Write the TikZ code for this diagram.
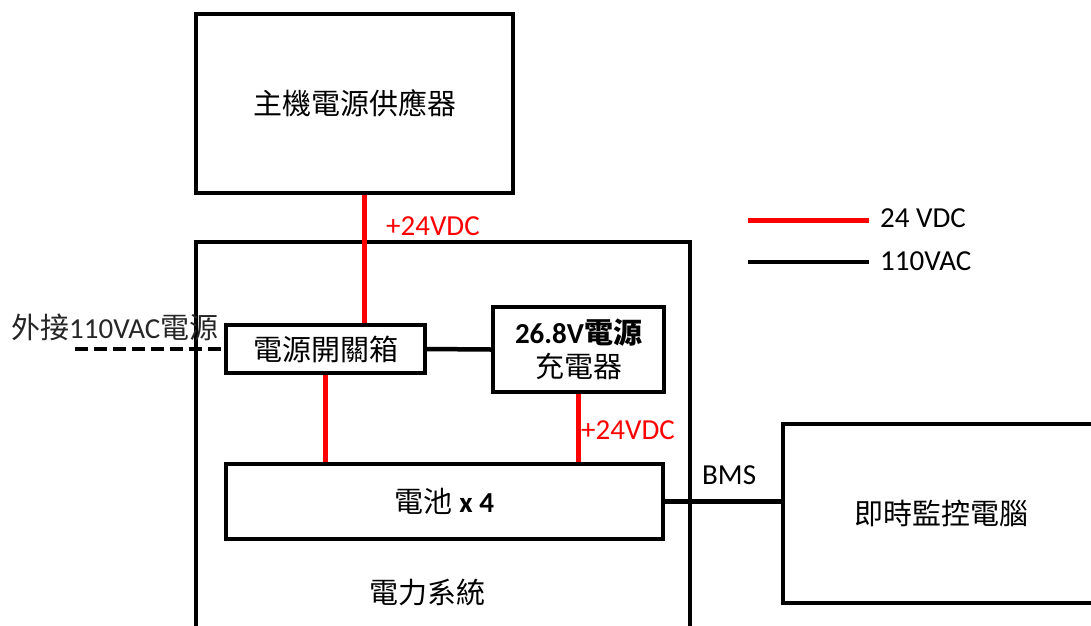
\documentclass[tikz,border=0pt]{standalone}
\usepackage{fontspec}
\setmainfont{Carlito}
\newfontfamily\cjk{Noto Sans CJK TC}
\begin{document}
\begin{tikzpicture}[x=1pt,y=-1pt]
\tikzset{
  box/.style={draw, line width=3.2pt, inner sep=0pt, align=center, font=\fontsize{29}{35}\selectfont},
  lbl/.style={inner sep=0pt, font=\fontsize{29}{35}\selectfont},
  redw/.style={draw=red, line width=5pt},
  blk/.style={draw=black, line width=4.5pt},
}
\useasboundingbox (0,0) rectangle (1091,625);
\clip (0,0) rectangle (1091,625);
% boxes
\node[box, minimum width=317pt, minimum height=179pt] (top) at (354.5,103.5) {\cjk 主機電源供應器};
\node[box, minimum width=494pt, minimum height=408pt] (sys) at (443,446) {};
\node[box, minimum width=199pt, minimum height=48pt, fill=white] (sw) at (325.5,349) {\cjk 電源開關箱};
\node[box, minimum width=171pt, minimum height=85pt] (ch) at (578.5,349.5) {{\bfseries 26.8V{\cjk 電源}}\\[-1pt]{\cjk 充電器}};
\node[box, minimum width=437pt, minimum height=75pt] (bat) at (444.5,501.5) {{\cjk 電池} {\bfseries x 4}};
\node[box, minimum width=317pt, minimum height=179pt] (mon) at (941.5,513.5) {\cjk 即時監控電腦};
\node[lbl] (syslbl) at (427,592) {\cjk 電力系統};
% connectors
\coordinate (r1) at (364,0);
\draw[redw] (top.south -| r1) -- (sw.north -| r1);
\draw[redw] (sw.south) -- (sw.south |- bat.north);
\draw[redw] (ch.south) -- (ch.south |- bat.north);
\draw[blk] (sw.east) -- (ch.west);
\draw[blk] (bat.east) -- (bat.east -| mon.west);
\coordinate (ext) at (75,349);
\draw[blk, dash pattern=on 13pt off 6pt] (ext) -- (sw.west);
% labels
\node[lbl, anchor=west, text=red] (l1) at (386,226) {+24VDC};
\node[lbl, anchor=west, text=red] (l2) at (581,430) {+24VDC};
\node[lbl, anchor=west] (bms) at (702,475) {BMS};
\node[lbl, anchor=west, text=black!85] (extl) at (11,327) {{\cjk 外接}110VAC{\cjk 電源}};
% legend
\coordinate (la) at (748,220);
\coordinate (lb) at (869,220);
\coordinate (lc) at (748,262);
\coordinate (ld) at (869,262);
\draw[redw] (la) -- (lb);
\draw[blk] (lc) -- (ld);
\node[lbl, anchor=west] (leg1) at (880,218) {24 VDC};
\node[lbl, anchor=west] (leg2) at (880,261) {110VAC};
\end{tikzpicture}
\end{document}
